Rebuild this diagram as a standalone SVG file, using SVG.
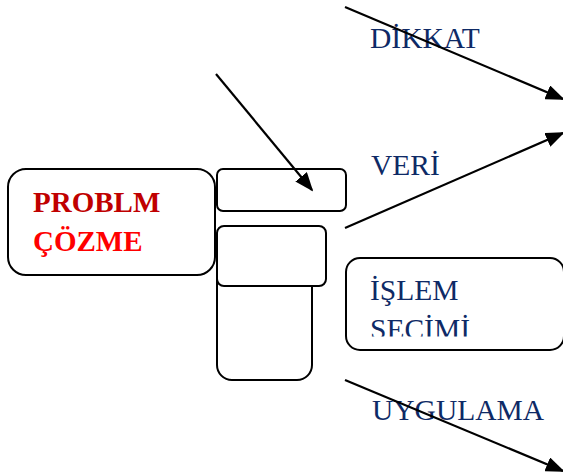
<svg xmlns="http://www.w3.org/2000/svg" width="563" height="475" viewBox="0 0 563 475">
<style>
.box{fill:#fff;stroke:#000;stroke-width:2}
.lbl{font-family:"Liberation Serif","Times New Roman",serif;font-size:29.5px;fill:#0E2A66}
.red{font-family:"Liberation Serif","Times New Roman",serif;font-size:29px;font-weight:bold}
.arr{stroke:#000;stroke-width:2.2;fill:none;marker-end:url(#ah)}
</style>
<defs>
<marker id="ah" viewBox="0 0 10 10" refX="9" refY="5" markerWidth="19" markerHeight="15" markerUnits="userSpaceOnUse" orient="auto" preserveAspectRatio="none">
<path d="M0,0 L10,5 L0,10 z" fill="#000"/>
</marker>
<clipPath id="clipS"><rect x="340" y="250" width="223" height="86.5"/></clipPath>
</defs>
<rect width="563" height="475" fill="#fff"/>
<g id="problem">
<rect class="box" x="8" y="169" width="207" height="106" rx="18"/>
<text class="red" x="33" y="212" fill="#C00000">PROBLM</text>
<text class="red" x="33" y="251" fill="#FF0000">ÇÖZME</text>
</g>
<g id="tall"><rect class="box" x="217" y="250" width="95" height="130" rx="15"/></g>
<g id="middle"><rect class="box" x="217" y="226" width="109" height="60" rx="7"/></g>
<g id="top"><rect class="box" x="217" y="169" width="129" height="42" rx="6"/></g>
<g id="islem">
<rect class="box" x="346" y="258" width="218" height="92" rx="14"/>
<text class="lbl" x="370" y="300">İŞLEM</text>
<text class="lbl" x="370" y="339" clip-path="url(#clipS)">SEÇİMİ</text>
</g>
<g id="dikkat"><text class="lbl" x="370" y="48">DİKKAT</text></g>
<g id="veri"><text class="lbl" x="371" y="175">VERİ</text></g>
<g id="uygulama"><text class="lbl" x="372" y="420">UYGULAMA</text></g>
<g id="connectors">
<line class="arr" x1="216" y1="74" x2="312" y2="190"/>
<line class="arr" x1="345" y1="7" x2="563" y2="99"/>
<line class="arr" x1="345" y1="228" x2="563" y2="133"/>
<line class="arr" x1="345" y1="380" x2="563" y2="471"/>
</g>
</svg>
